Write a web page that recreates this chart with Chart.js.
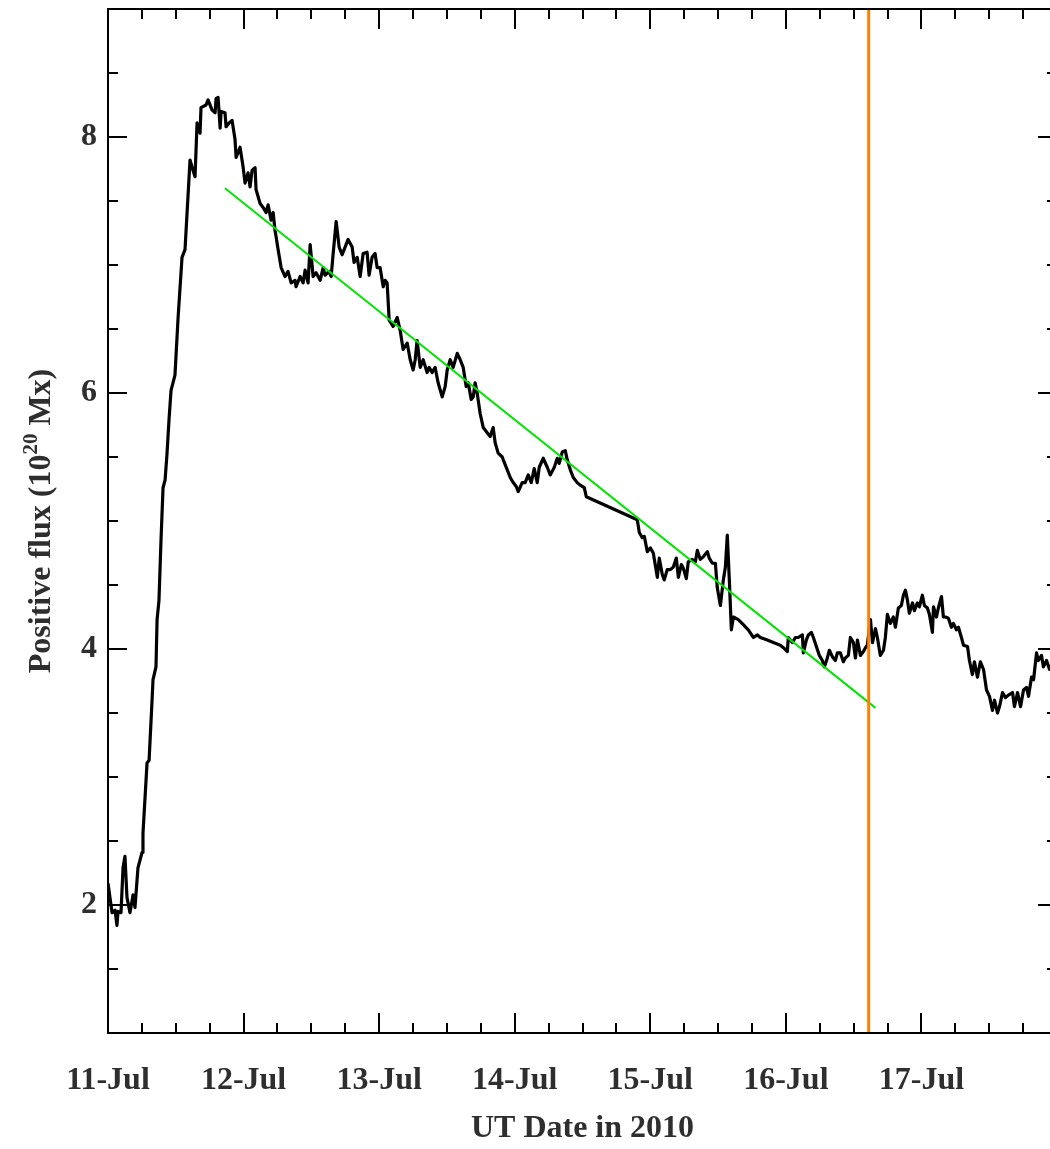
<!DOCTYPE html>
<html>
<head>
<meta charset="utf-8">
<script src="https://cdn.jsdelivr.net/npm/chart.js@4.4.0/dist/chart.umd.min.js"></script>
<style>
  html, body { margin: 0; padding: 0; background: #fff; overflow: hidden; }
  #wrap { position: relative; width: 1060px; height: 1149px; }
</style>
</head>
<body>
<div id="wrap"><canvas id="chart-flux"></canvas></div>
<script>
// ── Data ──────────────────────────────────────────────────────────────────────
// time in days since 2010-07-11 00:00 UT, flux in 1e20 Mx

const dayLabels = ['11-Jul', '12-Jul', '13-Jul', '14-Jul', '15-Jul', '16-Jul', '17-Jul'];

const fluxDays = [
  0.000, 0.030, 0.052, 0.066, 0.074, 0.096, 0.111, 0.125, 0.140, 0.162,
  0.185, 0.199, 0.221, 0.251, 0.258, 0.288, 0.303, 0.325, 0.332, 0.354,
  0.362, 0.376, 0.391, 0.406, 0.421, 0.435, 0.450, 0.465, 0.494, 0.517,
  0.546, 0.568, 0.605, 0.627, 0.642, 0.657, 0.679, 0.686, 0.723, 0.738,
  0.768, 0.790, 0.797, 0.812, 0.827, 0.834, 0.863, 0.871, 0.893, 0.915,
  0.937, 0.945, 0.974, 0.996, 1.011, 1.033, 1.048, 1.063, 1.085, 1.092,
  1.122, 1.144, 1.166, 1.181, 1.203, 1.218, 1.232, 1.240, 1.255, 1.277,
  1.306, 1.328, 1.351, 1.380, 1.387, 1.417, 1.439, 1.454, 1.476, 1.491,
  1.513, 1.535, 1.565, 1.587, 1.601, 1.631, 1.646, 1.661, 1.683, 1.705,
  1.727, 1.749, 1.771, 1.801, 1.815, 1.838, 1.860, 1.882, 1.911, 1.926,
  1.948, 1.970, 1.985, 2.007, 2.030, 2.044, 2.059, 2.074, 2.103, 2.133,
  2.155, 2.177, 2.207, 2.229, 2.251, 2.266, 2.280, 2.303, 2.325, 2.354,
  2.369, 2.391, 2.413, 2.435, 2.465, 2.487, 2.502, 2.524, 2.546, 2.576,
  2.598, 2.620, 2.642, 2.657, 2.679, 2.694, 2.708, 2.723, 2.745, 2.768,
  2.797, 2.819, 2.841, 2.856, 2.878, 2.908, 2.915, 2.945, 2.967, 2.989,
  3.011, 3.026, 3.055, 3.077, 3.100, 3.122, 3.144, 3.166, 3.181, 3.210,
  3.240, 3.262, 3.292, 3.314, 3.328, 3.351, 3.373, 3.387, 3.410, 3.432,
  3.461, 3.483, 3.513, 3.528, 3.904, 3.919, 3.941, 3.956, 3.978, 4.000,
  4.022, 4.052, 4.066, 4.089, 4.103, 4.125, 4.148, 4.170, 4.192, 4.207,
  4.229, 4.244, 4.266, 4.280, 4.310, 4.332, 4.347, 4.369, 4.391, 4.421,
  4.435, 4.458, 4.480, 4.494, 4.517, 4.539, 4.554, 4.568, 4.583, 4.598,
  4.613, 4.649, 4.686, 4.723, 4.760, 4.790, 4.812, 4.863, 4.908, 4.959,
  4.982, 5.011, 5.018, 5.048, 5.070, 5.092, 5.122, 5.129, 5.151, 5.166,
  5.188, 5.203, 5.225, 5.247, 5.269, 5.284, 5.306, 5.321, 5.343, 5.365,
  5.380, 5.402, 5.424, 5.439, 5.461, 5.476, 5.498, 5.513, 5.528, 5.550,
  5.572, 5.587, 5.601, 5.624, 5.639, 5.661, 5.675, 5.697, 5.720, 5.734,
  5.749, 5.771, 5.793, 5.808, 5.830, 5.852, 5.867, 5.882, 5.897, 5.911,
  5.934, 5.948, 5.970, 5.985, 6.007, 6.022, 6.044, 6.059, 6.081, 6.089,
  6.111, 6.125, 6.148, 6.162, 6.177, 6.199, 6.221, 6.236, 6.258, 6.273,
  6.295, 6.310, 6.340, 6.354, 6.376, 6.391, 6.413, 6.435, 6.458, 6.480,
  6.502, 6.524, 6.539, 6.561, 6.576, 6.598, 6.620, 6.642, 6.672, 6.686,
  6.709, 6.731, 6.753, 6.775, 6.790, 6.812, 6.827, 6.849, 6.863, 6.886,
  6.900, 6.923, 6.945, 6.989,
];

const fluxValues = [
  2.17, 1.94, 1.96, 1.84, 1.95, 1.94, 2.29, 2.38, 2.06, 1.94,
  2.08, 1.98, 2.29, 2.41, 2.56, 3.11, 3.13, 3.60, 3.76, 3.86,
  4.23, 4.38, 4.85, 5.26, 5.32, 5.52, 5.79, 6.02, 6.14, 6.59,
  7.06, 7.12, 7.82, 7.74, 7.69, 8.11, 8.03, 8.23, 8.25, 8.29,
  8.21, 8.19, 8.30, 8.31, 8.07, 8.20, 8.19, 8.08, 8.11, 8.13,
  7.98, 7.84, 7.92, 7.77, 7.64, 7.72, 7.61, 7.74, 7.76, 7.59,
  7.48, 7.45, 7.41, 7.47, 7.35, 7.41, 7.27, 7.22, 7.12, 6.98,
  6.91, 6.95, 6.86, 6.88, 6.83, 6.91, 6.86, 6.96, 6.86, 7.16,
  6.91, 6.94, 6.88, 6.98, 6.92, 6.95, 6.91, 7.09, 7.34, 7.14,
  7.08, 7.14, 7.20, 7.14, 7.02, 7.06, 6.91, 7.09, 7.10, 6.92,
  7.06, 7.09, 6.98, 6.98, 6.83, 6.88, 6.86, 6.57, 6.52, 6.59,
  6.49, 6.34, 6.39, 6.26, 6.18, 6.26, 6.41, 6.20, 6.26, 6.16,
  6.20, 6.16, 6.20, 6.08, 5.97, 6.05, 6.18, 6.26, 6.20, 6.31,
  6.26, 6.20, 6.05, 6.08, 5.95, 5.97, 6.08, 6.00, 5.84, 5.73,
  5.69, 5.66, 5.73, 5.61, 5.53, 5.50, 5.48, 5.40, 5.34, 5.30,
  5.27, 5.23, 5.30, 5.30, 5.36, 5.30, 5.41, 5.30, 5.42, 5.49,
  5.42, 5.36, 5.42, 5.49, 5.45, 5.54, 5.55, 5.48, 5.40, 5.34,
  5.30, 5.28, 5.26, 5.19, 5.01, 4.91, 4.87, 4.88, 4.76, 4.79,
  4.75, 4.56, 4.71, 4.58, 4.54, 4.62, 4.62, 4.64, 4.71, 4.56,
  4.66, 4.63, 4.55, 4.68, 4.70, 4.68, 4.77, 4.70, 4.72, 4.76,
  4.71, 4.67, 4.67, 4.48, 4.34, 4.54, 4.64, 4.89, 4.54, 4.15,
  4.25, 4.23, 4.19, 4.15, 4.09, 4.11, 4.09, 4.07, 4.05, 4.03,
  4.01, 3.98, 4.09, 4.05, 4.09, 4.09, 4.11, 3.97, 4.07, 4.11,
  4.13, 4.09, 4.02, 3.95, 3.91, 3.86, 3.93, 3.99, 3.94, 3.91,
  3.97, 3.97, 3.90, 3.93, 3.95, 4.09, 4.05, 3.93, 4.07, 3.95,
  3.98, 4.01, 4.03, 4.23, 4.05, 4.16, 4.09, 3.95, 3.99, 4.09,
  4.27, 4.20, 4.25, 4.17, 4.32, 4.34, 4.42, 4.46, 4.38, 4.28,
  4.36, 4.30, 4.36, 4.33, 4.42, 4.34, 4.32, 4.27, 4.13, 4.33,
  4.25, 4.32, 4.41, 4.25, 4.25, 4.24, 4.17, 4.20, 4.15, 4.17,
  4.09, 4.03, 4.02, 3.91, 3.80, 3.90, 3.78, 3.90, 3.84, 3.68,
  3.63, 3.52, 3.60, 3.50, 3.55, 3.66, 3.62, 3.64, 3.66, 3.55,
  3.66, 3.55, 3.68, 3.70, 3.63, 3.78, 3.76, 3.97, 3.91, 3.95,
  3.86, 3.91, 3.84, 3.88,
];

// linear decay fit
const fitDays = [0.863, 5.661];
const fitValues = [7.60, 3.54];

// vertical marker
const markerDay = 5.611;
const markerValues = [1, 9];

// ── Style ─────────────────────────────────────────────────────────────────────

const FONT = "'Liberation Serif', 'Times New Roman', serif";
const TEXT = '#2e2e2e';
const INK = '#000';

// ── Frame with inward ticks on all sides, plus rotated y title ────────────────

const frameTicksPlugin = {
  id: 'frameTicks',
  afterDatasetsDraw(chart) {
    const { ctx, chartArea: a, scales } = chart;
    ctx.save();
    ctx.strokeStyle = INK;
    ctx.lineWidth = 2;
    ctx.strokeRect(a.left, a.top, a.right - a.left, a.bottom - a.top);

    ctx.beginPath();
    scales.x.ticks.forEach(t => {
      const x = Math.round(scales.x.getPixelForValue(t.value));
      const len = Number.isInteger(t.value) ? 20 : 10;
      ctx.moveTo(x, a.bottom); ctx.lineTo(x, a.bottom - len);
      ctx.moveTo(x, a.top); ctx.lineTo(x, a.top + len);
    });
    scales.y.ticks.forEach(t => {
      const y = Math.round(scales.y.getPixelForValue(t.value));
      const len = t.value % 2 === 0 ? 19 : 10;
      ctx.moveTo(a.left, y); ctx.lineTo(a.left + len, y);
      ctx.moveTo(a.right, y); ctx.lineTo(a.right - len, y);
    });
    ctx.stroke();

    // y title: Positive flux (10^20 Mx)
    const parts = [
      { text: 'Positive flux (10', size: 32, rise: 0 },
      { text: '20', size: 21, rise: 13 },
      { text: ' Mx)', size: 32, rise: 0 },
    ];
    let total = 0;
    parts.forEach(p => {
      ctx.font = `bold ${p.size}px ${FONT}`;
      p.w = ctx.measureText(p.text).width;
      total += p.w;
    });
    ctx.translate(50, (a.top + a.bottom) / 2);
    ctx.rotate(-Math.PI / 2);
    ctx.fillStyle = TEXT;
    ctx.textBaseline = 'alphabetic';
    ctx.textAlign = 'left';
    let u = -total / 2;
    parts.forEach(p => {
      ctx.font = `bold ${p.size}px ${FONT}`;
      ctx.fillText(p.text, u, -p.rise);
      u += p.w;
    });
    ctx.restore();
  },
};

// ── Chart ─────────────────────────────────────────────────────────────────────

const tickFont = { family: FONT, size: 32, weight: 'bold' };

new Chart(document.getElementById('chart-flux'), {
  type: 'line',
  data: {
    datasets: [
      {
        label: 'Marker',
        data: markerValues.map(v => ({ x: markerDay, y: v })),
        borderColor: '#ff8000',
        borderWidth: 3,
        pointRadius: 0,
        order: 0,
      },
      {
        label: 'Fit',
        data: fitDays.map((d, i) => ({ x: d, y: fitValues[i] })),
        borderColor: '#00e600',
        borderWidth: 2,
        pointRadius: 0,
        order: 1,
      },
      {
        label: 'Positive flux',
        data: fluxDays.map((d, i) => ({ x: d, y: fluxValues[i] })),
        borderColor: INK,
        borderWidth: 3.2,
        borderJoinStyle: 'round',
        pointRadius: 0,
        tension: 0,
        order: 2,
      },
    ],
  },
  options: {
    responsive: true,
    maintainAspectRatio: false,
    animation: false,
    layout: { padding: { top: 9, right: 3, left: 0, bottom: 0 } },
    plugins: {
      legend: { display: false },
      tooltip: { enabled: false },
    },
    scales: {
      x: {
        type: 'linear',
        min: 0,
        max: 7,
        grid: { display: false, drawTicks: false },
        border: { display: false },
        ticks: {
          stepSize: 0.25,
          autoSkip: false,
          maxRotation: 0,
          padding: 29,
          font: tickFont,
          color: TEXT,
          callback: v => (Number.isInteger(v) && dayLabels[v]) ? dayLabels[v] : '',
        },
        title: {
          display: true,
          text: 'UT Date in 2010',
          font: tickFont,
          color: TEXT,
          padding: { top: 0, bottom: 1 },
        },
        afterFit(s) { s.height = 116; s.paddingLeft = 0; s.paddingRight = 0; },
      },
      y: {
        type: 'linear',
        min: 1,
        max: 9,
        grid: { display: false, drawTicks: false },
        border: { display: false },
        ticks: {
          stepSize: 0.5,
          autoSkip: false,
          padding: 11,
          font: tickFont,
          color: TEXT,
          callback: v => (v % 2 === 0) ? String(v) : '',
        },
        afterFit(s) { s.width = 108; s.paddingTop = 0; s.paddingBottom = 0; },
      },
    },
  },
  plugins: [frameTicksPlugin],
});
</script>
</body>
</html>
